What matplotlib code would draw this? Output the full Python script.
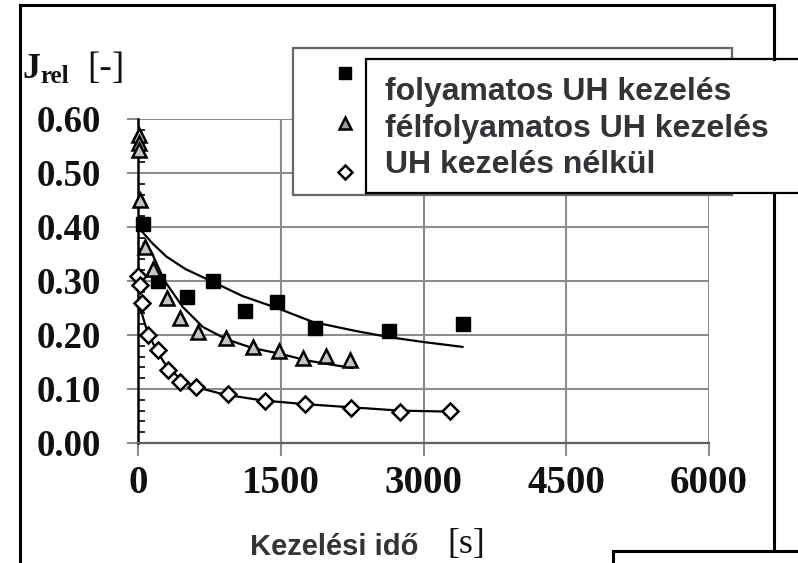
import matplotlib
matplotlib.use("Agg")
import matplotlib.pyplot as plt
from matplotlib.lines import Line2D
from matplotlib.patches import Rectangle

# measured points
sq_t = [50, 210, 510, 785, 1120, 1460, 1860, 2640, 3410]
sq_j = [0.405, 0.300, 0.270, 0.300, 0.245, 0.262, 0.213, 0.208, 0.220]

tri_t = [10, 12, 15, 20, 75, 160, 300, 440, 630, 920, 1210, 1480, 1730, 1980, 2225]
tri_j = [0.570, 0.555, 0.543, 0.450, 0.363, 0.322, 0.268, 0.231, 0.205, 0.194,
         0.178, 0.170, 0.157, 0.161, 0.154]

dia_t = [0, 20, 40, 100, 210, 315, 440, 610, 945, 1330, 1750, 2235, 2750, 3275]
dia_j = [0.310, 0.293, 0.260, 0.200, 0.172, 0.135, 0.113, 0.104, 0.091, 0.078,
         0.072, 0.065, 0.057, 0.059]

# fitted curves
sq_fit_t = [50, 150, 300, 500, 790, 1100, 1460, 1840, 2300, 2640, 3000, 3410]
sq_fit_j = [0.390, 0.370, 0.345, 0.322, 0.298, 0.272, 0.250, 0.224, 0.207, 0.196, 0.187, 0.178]

tri_fit_t = [60, 150, 280, 470, 680, 930, 1200, 1500, 1770, 2000, 2250]
tri_fit_j = [0.370, 0.350, 0.300, 0.252, 0.215, 0.192, 0.176, 0.165, 0.153, 0.146, 0.139]

dia_fit_t = [0, 40, 100, 200, 300, 450, 600, 900, 1300, 1750, 2250, 2750, 3300]
dia_fit_j = [0.260, 0.240, 0.205, 0.170, 0.142, 0.118, 0.104, 0.090, 0.079, 0.072, 0.066, 0.060, 0.058]

x_ticks = [0, 1500, 3000, 4500, 6000]
y_ticks = [0.0, 0.1, 0.2, 0.3, 0.4, 0.5, 0.6]
labels = ['folyamatos UH kezelés', 'félfolyamatos UH kezelés', 'UH kezelés nélkül']

W, H = 798, 563
fig = plt.figure(figsize=(W / 100, H / 100), dpi=100)
fig.patch.set_facecolor('white')

def fx(x):
    return x / W

def fy(y):
    return 1 - y / H

ax = fig.add_axes([fx(138), fy(443), (709 - 138) / W, (443 - 119) / H])
ax.set_xlim(0, 6000)
ax.set_ylim(0, 0.6)

gridc = '#8c8c8c'
ax.set_xticks(x_ticks)
ax.set_yticks(y_ticks)
ax.set_yticks([i * 0.02 for i in range(31)], minor=True)
ax.grid(True, which='major', color=gridc, lw=1.5)
ax.set_axisbelow(True)

for s in ['top', 'right']:
    ax.spines[s].set_visible(False)
ax.spines['left'].set_color('black')
ax.spines['left'].set_linewidth(1.8)
ax.spines['bottom'].set_color('#606060')
ax.spines['bottom'].set_linewidth(1.6)

ax.set_xticklabels([str(v) for v in x_ticks], fontfamily='Liberation Serif',
                   fontweight='bold', fontsize=28, color='#111111')
ax.set_yticklabels(['%.2f' % v for v in y_ticks], fontfamily='Liberation Serif',
                   fontweight='bold', fontsize=26.5, color='#111111')
ax.tick_params(axis='x', which='major', direction='out', length=9, width=1.5,
               color=gridc, pad=7)
ax.tick_params(axis='y', which='major', direction='out', length=8, width=1.5,
               color=gridc, pad=19)
ax.tick_params(axis='y', which='minor', direction='in', length=5, width=1.2,
               color='black')
ax.tick_params(axis='x', which='minor', length=0)

lw = 1.6
ax.plot(sq_fit_t, sq_fit_j, color='black', lw=lw, zorder=3)
ax.plot(tri_fit_t, tri_fit_j, color='black', lw=lw, zorder=3)
ax.plot(dia_fit_t, dia_fit_j, color='black', lw=lw, zorder=3)

ax.plot(sq_t, sq_j, 's', ms=10.5, color='black', zorder=4, clip_on=False)
ax.plot(tri_t, tri_j, '^', ms=10, mfc='#c4c4c4', mec='black', mew=1.8,
        zorder=4, clip_on=False)
ax.plot(dia_t, dia_j, 'D', ms=8.5, mfc='white', mec='black', mew=1.8,
        zorder=5, clip_on=False)

# y label
serif = dict(fontfamily='Liberation Serif', color='#111111', va='baseline', ha='left')
fig.text(fx(22), fy(78), 'J', fontsize=26, fontweight='bold', **serif)
fig.text(fx(40), fy(83), 'rel', fontsize=18, fontweight='bold', **serif)
fig.text(fx(87), fy(78), '[-]', fontsize=27, **serif)

# x label
fig.text(fx(250), fy(555), 'Kezelési idő', fontfamily='Liberation Sans',
         fontweight='bold', fontsize=21, color='#333338', va='baseline', ha='left')
fig.text(fx(447), fy(553), '[s]', fontsize=26, **serif)

# original grey legend box with markers
fig.add_artist(Rectangle((fx(293), fy(195)), (732 - 293) / W, (195 - 48) / H,
                         transform=fig.transFigure, facecolor='white',
                         edgecolor='#666666', lw=1.6, zorder=2))
mk = [dict(marker='s', ms=9, color='black'),
      dict(marker='^', ms=9, mfc='#a0a0a0', mec='black', mew=1.8),
      dict(marker='D', ms=7, mfc='white', mec='black', mew=1.8)]
for i, yy in enumerate([73, 123, 172]):
    fig.add_artist(Line2D([fx(345)], [fy(yy)], transform=fig.transFigure,
                          ls='none', zorder=3, **mk[i]))

# overlay box with labels
fig.add_artist(Rectangle((fx(366), fy(193)), (820 - 366) / W, (193 - 59) / H,
                         transform=fig.transFigure, facecolor='white',
                         edgecolor='black', lw=1.6, zorder=4))
for lab, yy in zip(labels, [100, 137, 173]):
    fig.text(fx(385), fy(yy), lab, fontfamily='Liberation Sans', fontweight='bold',
             fontsize=23, color='#333338', va='baseline', ha='left', zorder=5)

# outer frame lines
fr = dict(transform=fig.transFigure, color='black', lw=2.2, zorder=6)
fig.add_artist(Line2D([fx(20), fx(20)], [fy(5), fy(570)], **fr))
fig.add_artist(Line2D([fx(20), fx(774)], [fy(5), fy(5)], **fr))
fig.add_artist(Line2D([fx(774), fx(774)], [fy(5), fy(59)], **fr))
fig.add_artist(Line2D([fx(774), fx(774)], [fy(193), fy(549)], **fr))
fig.add_artist(Line2D([fx(613), fx(820)], [fy(551), fy(551)], **fr))
fig.add_artist(Line2D([fx(613), fx(613)], [fy(551), fy(570)], **fr))

fig.savefig('out.png', dpi=100)
